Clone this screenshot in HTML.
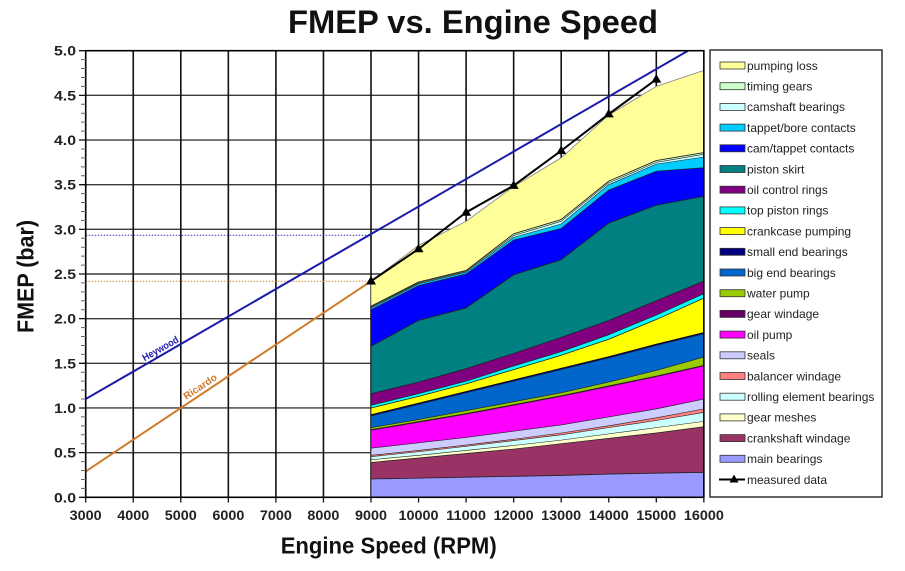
<!DOCTYPE html>
<html>
<head>
<meta charset="utf-8">
<style>
  html,body{margin:0;padding:0;background:#fff;}
  svg{display:block;}
  text{font-family:"Liberation Sans",Arial,sans-serif;}
</style>
</head>
<body>
<svg width="905" height="571" viewBox="0 0 905 571" xmlns="http://www.w3.org/2000/svg">
  <rect x="0" y="0" width="905" height="571" fill="#fff"/>

  <!-- Title -->
  <text x="288" y="33" font-size="32" font-weight="bold" fill="#111" textLength="370" lengthAdjust="spacingAndGlyphs">FMEP vs. Engine Speed</text>

  <!-- Plot background -->
  <rect x="85.7" y="50.7" width="618.15" height="446.6" fill="#fff"/>

  <!-- Horizontal gridlines -->
  <g stroke="#3a3a3a" stroke-width="1.4">
    <line x1="85.7" y1="452.64" x2="703.85" y2="452.64"/>
    <line x1="85.7" y1="407.98" x2="703.85" y2="407.98"/>
    <line x1="85.7" y1="363.32" x2="703.85" y2="363.32"/>
    <line x1="85.7" y1="318.66" x2="703.85" y2="318.66"/>
    <line x1="85.7" y1="274.0" x2="703.85" y2="274.0"/>
    <line x1="85.7" y1="229.34" x2="703.85" y2="229.34"/>
    <line x1="85.7" y1="184.68" x2="703.85" y2="184.68"/>
    <line x1="85.7" y1="140.02" x2="703.85" y2="140.02"/>
    <line x1="85.7" y1="95.36" x2="703.85" y2="95.36"/>
  </g>
  <!-- Vertical gridlines -->
  <g stroke="#111" stroke-width="1.6">
    <line x1="133.25" y1="50.7" x2="133.25" y2="497.3"/>
    <line x1="180.8" y1="50.7" x2="180.8" y2="497.3"/>
    <line x1="228.35" y1="50.7" x2="228.35" y2="497.3"/>
    <line x1="275.9" y1="50.7" x2="275.9" y2="497.3"/>
    <line x1="323.45" y1="50.7" x2="323.45" y2="497.3"/>
    <line x1="371.0" y1="50.7" x2="371.0" y2="497.3"/>
    <line x1="418.55" y1="50.7" x2="418.55" y2="497.3"/>
    <line x1="466.1" y1="50.7" x2="466.1" y2="497.3"/>
    <line x1="513.65" y1="50.7" x2="513.65" y2="497.3"/>
    <line x1="561.2" y1="50.7" x2="561.2" y2="497.3"/>
    <line x1="608.75" y1="50.7" x2="608.75" y2="497.3"/>
    <line x1="656.3" y1="50.7" x2="656.3" y2="497.3"/>
  </g>

  <!-- Stacked areas (data coordinates: x = (rpm-3000)/1000, y = bar) -->
  <g transform="translate(85.7,497.3) scale(47.55,-89.32)" stroke-linejoin="round">
    <polygon fill="#FFFF99" stroke="#808080" stroke-width="0.8" vector-effect="non-scaling-stroke" points="6,2.42 7,2.82 8,3.09 9,3.48 10,3.80 11,4.28 12,4.60 13,4.78 13,0 6,0"/>
    <polygon fill="#CCFFCC" stroke="#222" stroke-width="0.9" vector-effect="non-scaling-stroke" points="6,2.14 7,2.41 8,2.54 9,2.95 10,3.11 11,3.54 12,3.77 13,3.86 13,0 6,0"/>
    <polygon fill="#CCFFFF" stroke="#222" stroke-width="0.6" vector-effect="non-scaling-stroke" points="6,2.13 7,2.40 8,2.53 9,2.93 10,3.09 11,3.52 12,3.75 13,3.84 13,0 6,0"/>
    <polygon fill="#00CCFF" stroke="#222" stroke-width="0.6" vector-effect="non-scaling-stroke" points="6,2.12 7,2.39 8,2.52 9,2.91 10,3.06 11,3.50 12,3.73 13,3.81 13,0 6,0"/>
    <polygon fill="#0000FF" stroke="#222" stroke-width="0.7" vector-effect="non-scaling-stroke" points="6,2.10 7,2.37 8,2.50 9,2.88 10,3.01 11,3.44 12,3.65 13,3.69 13,0 6,0"/>
    <polygon fill="#008080" stroke="#222" stroke-width="0.8" vector-effect="non-scaling-stroke" points="6,1.69 7,1.98 8,2.12 9,2.49 10,2.66 11,3.07 12,3.27 13,3.37 13,0 6,0"/>
    <polygon fill="#800080" stroke="#222" stroke-width="0.8" vector-effect="non-scaling-stroke" points="6,1.16 7,1.29 8,1.44 9,1.61 10,1.79 11,1.98 12,2.20 13,2.42 13,0 6,0"/>
    <polygon fill="#00FFFF" stroke="#222" stroke-width="0.7" vector-effect="non-scaling-stroke" points="6,1.03 7,1.16 8,1.30 9,1.47 10,1.63 11,1.82 12,2.04 13,2.28 13,0 6,0"/>
    <polygon fill="#FFFF00" stroke="#222" stroke-width="0.8" vector-effect="non-scaling-stroke" points="6,1.0 7,1.13 8,1.27 9,1.43 10,1.59 11,1.77 12,1.99 13,2.23 13,0 6,0"/>
    <polygon fill="#000080" stroke="#111" stroke-width="0.7" vector-effect="non-scaling-stroke" points="6,0.925 7,1.055 8,1.185 9,1.315 10,1.445 11,1.575 12,1.715 13,1.845 13,0 6,0"/>
    <polygon fill="#0066CC" stroke="#222" stroke-width="0.6" vector-effect="non-scaling-stroke" points="6,0.91 7,1.04 8,1.17 9,1.30 10,1.43 11,1.56 12,1.70 13,1.83 13,0 6,0"/>
    <polygon fill="#99CC00" stroke="#222" stroke-width="0.7" vector-effect="non-scaling-stroke" points="6,0.78 7,0.87 8,0.97 9,1.07 10,1.17 11,1.29 12,1.42 13,1.57 13,0 6,0"/>
    <polygon fill="#660066" stroke="#222" stroke-width="0.6" vector-effect="non-scaling-stroke" points="6,0.758 7,0.848 8,0.938 9,1.038 10,1.138 11,1.248 12,1.358 13,1.478 13,0 6,0"/>
    <polygon fill="#FF00FF" stroke="#222" stroke-width="0.6" vector-effect="non-scaling-stroke" points="6,0.75 7,0.84 8,0.93 9,1.03 10,1.13 11,1.24 12,1.35 13,1.47 13,0 6,0"/>
    <polygon fill="#CCCCFF" stroke="#222" stroke-width="0.7" vector-effect="non-scaling-stroke" points="6,0.55 7,0.61 8,0.67 9,0.74 10,0.81 11,0.90 12,0.99 13,1.10 13,0 6,0"/>
    <polygon fill="#FF8080" stroke="#222" stroke-width="0.6" vector-effect="non-scaling-stroke" points="6,0.47 7,0.525 8,0.585 9,0.65 10,0.72 11,0.80 12,0.89 13,0.99 13,0 6,0"/>
    <polygon fill="#CCFFFF" stroke="#222" stroke-width="0.6" vector-effect="non-scaling-stroke" points="6,0.455 7,0.51 8,0.57 9,0.635 10,0.70 11,0.78 12,0.86 13,0.95 13,0 6,0"/>
    <polygon fill="#FFFFCC" stroke="#222" stroke-width="0.6" vector-effect="non-scaling-stroke" points="6,0.42 7,0.47 8,0.525 9,0.58 10,0.64 11,0.71 12,0.78 13,0.85 13,0 6,0"/>
    <polygon fill="#993366" stroke="#222" stroke-width="0.7" vector-effect="non-scaling-stroke" points="6,0.39 7,0.44 8,0.49 9,0.54 10,0.60 11,0.66 12,0.72 13,0.79 13,0 6,0"/>
    <polygon fill="#9999FF" stroke="#222" stroke-width="0.8" vector-effect="non-scaling-stroke" points="6,0.205 7,0.215 8,0.225 9,0.235 10,0.245 11,0.26 12,0.27 13,0.28 13,0 6,0"/>
  </g>

  <!-- Dotted reference lines -->
  <line x1="85.7" y1="235.3" x2="371" y2="235.3" stroke="#3333cc" stroke-width="1" stroke-dasharray="1.5,1.5"/>
  <line x1="85.7" y1="281.2" x2="371" y2="281.2" stroke="#cc8833" stroke-width="1" stroke-dasharray="1.5,1.5"/>

  <!-- Heywood and Ricardo lines -->
  <line x1="85.7" y1="399.05" x2="688" y2="50.7" stroke="#1a1aaa" stroke-width="2"/>
  <line x1="85.7" y1="471.4" x2="371" y2="281.15" stroke="#d07a2a" stroke-width="2"/>
  <text transform="translate(162,351.5) rotate(-29.4)" text-anchor="middle" font-size="10" font-weight="bold" fill="#1a1aaa" textLength="40" lengthAdjust="spacingAndGlyphs">Heywood</text>
  <text transform="translate(202,389.5) rotate(-33.7)" text-anchor="middle" font-size="10" font-weight="bold" fill="#d07a2a" textLength="38" lengthAdjust="spacingAndGlyphs">Ricardo</text>

  <!-- Measured data -->
  <polyline fill="none" stroke="#000" stroke-width="2" points="371,281.15 418.55,248.99 466.1,212.37 513.65,185.57 561.2,150.74 608.75,114.11 656.3,79.28"/>
  <g fill="#000">
    <polygon points="371,276 366,284.5 376,284.5"/>
    <polygon points="418.55,243.8 413.55,252.3 423.55,252.3"/>
    <polygon points="466.1,207.2 461.1,215.7 471.1,215.7"/>
    <polygon points="513.65,180.4 508.65,188.9 518.65,188.9"/>
    <polygon points="561.2,145.6 556.2,154.1 566.2,154.1"/>
    <polygon points="608.75,108.9 603.75,117.4 613.75,117.4"/>
    <polygon points="656.3,74.1 651.3,82.6 661.3,82.6"/>
  </g>

  <!-- Plot border -->
  <rect x="85.7" y="50.7" width="618.15" height="446.6" fill="none" stroke="#000" stroke-width="1.6"/>

  <!-- Y-axis minor ticks -->
  <path stroke="#666" stroke-width="1" fill="none" d="M81 488.37H85.7M81 479.44H85.7M81 470.50H85.7M81 461.57H85.7M81 443.71H85.7M81 434.78H85.7M81 425.84H85.7M81 416.91H85.7M81 399.05H85.7M81 390.12H85.7M81 381.18H85.7M81 372.25H85.7M81 354.39H85.7M81 345.46H85.7M81 336.52H85.7M81 327.59H85.7M81 309.73H85.7M81 300.80H85.7M81 291.86H85.7M81 282.93H85.7M81 265.07H85.7M81 256.14H85.7M81 247.20H85.7M81 238.27H85.7M81 220.41H85.7M81 211.48H85.7M81 202.54H85.7M81 193.61H85.7M81 175.75H85.7M81 166.82H85.7M81 157.88H85.7M81 148.95H85.7M81 131.09H85.7M81 122.16H85.7M81 113.22H85.7M81 104.29H85.7M81 86.43H85.7M81 77.50H85.7M81 68.56H85.7M81 59.63H85.7"/>
  <!-- Y-axis major ticks -->
  <path stroke="#111" stroke-width="1.3" fill="none" d="M79 497.3H85.7M79 452.64H85.7M79 407.98H85.7M79 363.32H85.7M79 318.66H85.7M79 274.0H85.7M79 229.34H85.7M79 184.68H85.7M79 140.02H85.7M79 95.36H85.7M79 50.7H85.7"/>
  <!-- X-axis ticks -->
  <path stroke="#111" stroke-width="1.3" fill="none" d="M85.7 497.3V502.5M133.25 497.3V502.5M180.8 497.3V502.5M228.35 497.3V502.5M275.9 497.3V502.5M323.45 497.3V502.5M371 497.3V502.5M418.55 497.3V502.5M466.1 497.3V502.5M513.65 497.3V502.5M561.2 497.3V502.5M608.75 497.3V502.5M656.3 497.3V502.5M703.85 497.3V502.5"/>

  <!-- Y tick labels -->
  <g font-size="13.5" font-weight="bold" fill="#222" text-anchor="end">
    <text x="76" y="502.3" textLength="22" lengthAdjust="spacingAndGlyphs">0.0</text>
    <text x="76" y="457.6" textLength="22" lengthAdjust="spacingAndGlyphs">0.5</text>
    <text x="76" y="413.0" textLength="22" lengthAdjust="spacingAndGlyphs">1.0</text>
    <text x="76" y="368.3" textLength="22" lengthAdjust="spacingAndGlyphs">1.5</text>
    <text x="76" y="323.7" textLength="22" lengthAdjust="spacingAndGlyphs">2.0</text>
    <text x="76" y="279.0" textLength="22" lengthAdjust="spacingAndGlyphs">2.5</text>
    <text x="76" y="234.3" textLength="22" lengthAdjust="spacingAndGlyphs">3.0</text>
    <text x="76" y="189.7" textLength="22" lengthAdjust="spacingAndGlyphs">3.5</text>
    <text x="76" y="145.0" textLength="22" lengthAdjust="spacingAndGlyphs">4.0</text>
    <text x="76" y="100.4" textLength="22" lengthAdjust="spacingAndGlyphs">4.5</text>
    <text x="76" y="55.7" textLength="22" lengthAdjust="spacingAndGlyphs">5.0</text>
  </g>

  <!-- X tick labels -->
  <g font-size="13.5" font-weight="bold" fill="#222" text-anchor="middle">
    <text x="85.7" y="520" textLength="32" lengthAdjust="spacingAndGlyphs">3000</text>
    <text x="133.25" y="520" textLength="32" lengthAdjust="spacingAndGlyphs">4000</text>
    <text x="180.8" y="520" textLength="32" lengthAdjust="spacingAndGlyphs">5000</text>
    <text x="228.35" y="520" textLength="32" lengthAdjust="spacingAndGlyphs">6000</text>
    <text x="275.9" y="520" textLength="32" lengthAdjust="spacingAndGlyphs">7000</text>
    <text x="323.45" y="520" textLength="32" lengthAdjust="spacingAndGlyphs">8000</text>
    <text x="371" y="520" textLength="32" lengthAdjust="spacingAndGlyphs">9000</text>
    <text x="418.55" y="520" textLength="40" lengthAdjust="spacingAndGlyphs">10000</text>
    <text x="466.1" y="520" textLength="40" lengthAdjust="spacingAndGlyphs">11000</text>
    <text x="513.65" y="520" textLength="40" lengthAdjust="spacingAndGlyphs">12000</text>
    <text x="561.2" y="520" textLength="40" lengthAdjust="spacingAndGlyphs">13000</text>
    <text x="608.75" y="520" textLength="40" lengthAdjust="spacingAndGlyphs">14000</text>
    <text x="656.3" y="520" textLength="40" lengthAdjust="spacingAndGlyphs">15000</text>
    <text x="703.85" y="520" textLength="40" lengthAdjust="spacingAndGlyphs">16000</text>
  </g>

  <!-- Axis titles -->
  <text x="280.7" y="553.5" font-size="23" font-weight="bold" fill="#111" textLength="216" lengthAdjust="spacingAndGlyphs">Engine Speed (RPM)</text>
  <text transform="translate(33.5,333) rotate(-90)" x="0" y="0" font-size="23" font-weight="bold" fill="#111" textLength="113" lengthAdjust="spacingAndGlyphs">FMEP (bar)</text>

  <!-- Legend -->
  <rect x="710" y="50" width="172" height="447" fill="#fff" stroke="#000" stroke-width="1.2"/>
  <g stroke="#333" stroke-width="0.8">
    <rect x="720" y="62" width="25" height="7" fill="#FFFF99"/>
    <rect x="720" y="82.7" width="25" height="7" fill="#CCFFCC"/>
    <rect x="720" y="103.4" width="25" height="7" fill="#CCFFFF"/>
    <rect x="720" y="124.1" width="25" height="7" fill="#00CCFF"/>
    <rect x="720" y="144.8" width="25" height="7" fill="#0000FF"/>
    <rect x="720" y="165.5" width="25" height="7" fill="#008080"/>
    <rect x="720" y="186.2" width="25" height="7" fill="#800080"/>
    <rect x="720" y="206.9" width="25" height="7" fill="#00FFFF"/>
    <rect x="720" y="227.6" width="25" height="7" fill="#FFFF00"/>
    <rect x="720" y="248.3" width="25" height="7" fill="#000080"/>
    <rect x="720" y="269.0" width="25" height="7" fill="#0066CC"/>
    <rect x="720" y="289.7" width="25" height="7" fill="#99CC00"/>
    <rect x="720" y="310.4" width="25" height="7" fill="#660066"/>
    <rect x="720" y="331.1" width="25" height="7" fill="#FF00FF"/>
    <rect x="720" y="351.8" width="25" height="7" fill="#CCCCFF"/>
    <rect x="720" y="372.5" width="25" height="7" fill="#FF8080"/>
    <rect x="720" y="393.2" width="25" height="7" fill="#CCFFFF"/>
    <rect x="720" y="413.9" width="25" height="7" fill="#FFFFCC"/>
    <rect x="720" y="434.6" width="25" height="7" fill="#993366"/>
    <rect x="720" y="455.3" width="25" height="7" fill="#9999FF"/>
  </g>
  <line x1="719" y1="479.5" x2="745" y2="479.5" stroke="#000" stroke-width="2"/>
  <polygon points="734,474.5 729.5,482.5 738.5,482.5" fill="#000"/>
  <g font-size="12" fill="#222">
    <text x="747" y="69.8">pumping loss</text>
    <text x="747" y="90.5">timing gears</text>
    <text x="747" y="111.2">camshaft bearings</text>
    <text x="747" y="131.9">tappet/bore contacts</text>
    <text x="747" y="152.6">cam/tappet contacts</text>
    <text x="747" y="173.3">piston skirt</text>
    <text x="747" y="194.0">oil control rings</text>
    <text x="747" y="214.7">top piston rings</text>
    <text x="747" y="235.4">crankcase pumping</text>
    <text x="747" y="256.1">small end bearings</text>
    <text x="747" y="276.8">big end bearings</text>
    <text x="747" y="297.5">water pump</text>
    <text x="747" y="318.2">gear windage</text>
    <text x="747" y="338.9">oil pump</text>
    <text x="747" y="359.6">seals</text>
    <text x="747" y="380.3">balancer windage</text>
    <text x="747" y="401.0">rolling element bearings</text>
    <text x="747" y="421.7">gear meshes</text>
    <text x="747" y="442.4">crankshaft windage</text>
    <text x="747" y="463.1">main bearings</text>
    <text x="747" y="483.8">measured data</text>
  </g>
</svg>
</body>
</html>
